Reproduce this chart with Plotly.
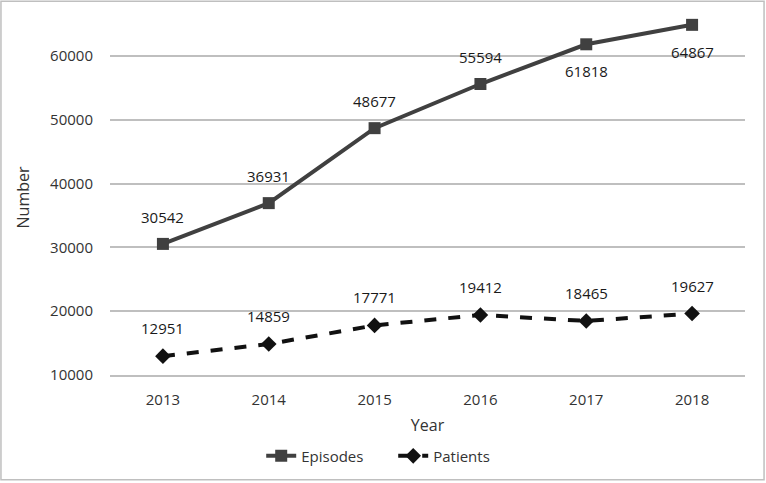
import plotly.graph_objects as go

years = ["2013", "2014", "2015", "2016", "2017", "2018"]
episodes = [30542, 36931, 48677, 55594, 61818, 64867]
patients = [12951, 14859, 17771, 19412, 18465, 19627]
episode_label_pos = ["above", "above", "above", "above", "below", "below"]

FONT = "Open Sans, Noto Sans, sans-serif"

fig = go.Figure()
fig.add_trace(go.Scatter(
    x=years, y=episodes, name="Episodes", mode="lines+markers",
    line=dict(color="#404040", width=4),
    marker=dict(symbol="square", size=12, color="#404040"),
    cliponaxis=False,
))
fig.add_trace(go.Scatter(
    x=years, y=patients, name="Patients", mode="lines+markers",
    line=dict(color="#111111", width=4, dash="dash"),
    marker=dict(symbol="diamond", size=12, color="#111111"),
    cliponaxis=False,
))

annotations = []
for i, (v, p) in enumerate(zip(episodes, episode_label_pos)):
    annotations.append(dict(x=i, y=v, xref="x", yref="y", text=str(v), showarrow=False,
                            yshift=27 if p == "above" else -27,
                            font=dict(size=15, color="#1a1a1a", family=FONT)))
for i, v in enumerate(patients):
    annotations.append(dict(x=i, y=v, xref="x", yref="y", text=str(v), showarrow=False,
                            yshift=28,
                            font=dict(size=15, color="#1a1a1a", family=FONT)))

fig.update_layout(
    width=766, height=483,
    margin=dict(l=110, r=21, t=20, b=107),
    paper_bgcolor="white", plot_bgcolor="white",
    font=dict(family=FONT, size=15, color="#333333"),
    showlegend=True,
    legend=dict(orientation="h", x=0.446, xanchor="center", y=-0.225, yanchor="middle",
                font=dict(size=15, color="#333333"), entrywidth=87, entrywidthmode="pixels"),
    annotations=annotations,
    xaxis=dict(type="category", range=[-0.5, 5.5], showgrid=False,
               showline=True, linecolor="#bfbfbf", linewidth=1.5,
               ticks="", ticklabelstandoff=10,
               title=dict(text="Year", font=dict(size=16, color="#333333"), standoff=12)),
    yaxis=dict(range=[10000, 65625], tickvals=[10000, 20000, 30000, 40000, 50000, 60000],
               showgrid=True, gridcolor="#bfbfbf", gridwidth=1.5, zeroline=False,
               showline=False, ticks="", ticklabelstandoff=16, tickformat="d",
               title=dict(text="Number", font=dict(size=16, color="#333333"), standoff=16)),
    shapes=[dict(type="rect", xref="paper", yref="paper", x0=-0.1717, x1=1.03,
                 y0=-0.295, y1=1.053, line=dict(color="#bfbfbf", width=1.5))],
)

fig.write_html("out.html", config={"displayModeBar": False},
               post_script="document.body.style.margin='0';document.body.style.padding='0';")
